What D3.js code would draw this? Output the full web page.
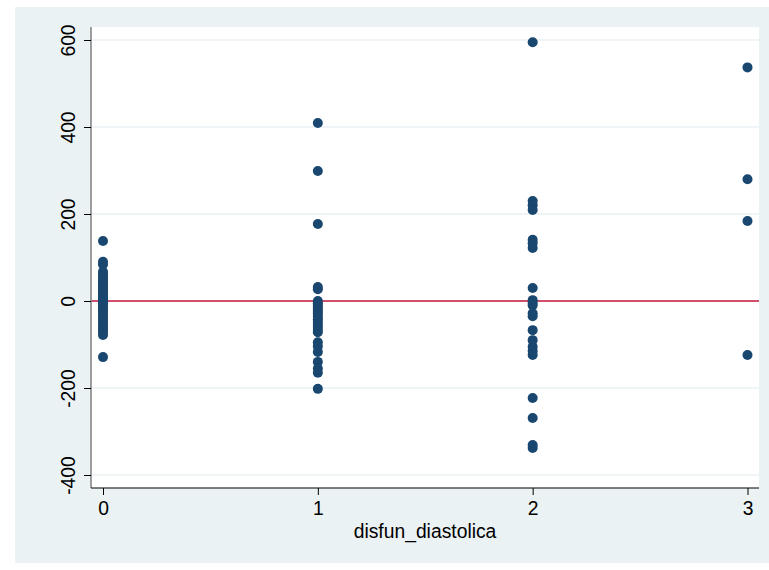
<!DOCTYPE html>
<html>
<head>
<meta charset="utf-8">
<script src="https://cdn.jsdelivr.net/npm/d3@7"></script>
<style>
  html, body { margin: 0; padding: 0; background: #ffffff; }
  svg { display: block; }
  text { font-family: "Liberation Sans", Arial, sans-serif; fill: #000; }
</style>
</head>
<body>
<svg id="chart" width="769" height="570"></svg>
<script>
// Residuals grouped by diastolic dysfunction grade
const grades = [0, 1, 2, 3];
const residGrade0 = [138, 90, 84, 67, 62, 58, 52, 47, 42, 37, 32, 27, 22, 17, 12, 7, 3, 0, -4, -9, -14, -19, -24, -29, -35, -41, -47, -53, -59, -65, -71, -78, -129];
const residGrade1 = [409, 299, 177, 32, 27, 0, -5, -10, -15, -20, -25, -30, -36, -42, -48, -54, -60, -66, -72, -95, -104, -117, -140, -155, -165, -202];
const residGrade2 = [595, 230, 220, 209, 141, 133, 122, 30, 2, -4, -10, -28, -35, -67, -90, -105, -115, -124, -223, -269, -331, -338];
const residGrade3 = [537, 280, 184, -124];
const xTicks = [0, 1, 2, 3];
const yTicks = [-400, -200, 0, 200, 400, 600];
const xTitle = "disfun_diastolica";

const seriesByGrade = [residGrade0, residGrade1, residGrade2, residGrade3];
const points = [];
seriesByGrade.forEach((vals, i) => vals.forEach(v => points.push({ x: grades[i], y: v })));

const svg = d3.select("#chart");
const fontSize = 21;
const squeeze = 0.92; // slightly condensed lettering

// outer graph region
svg.append("rect").attr("x", 15).attr("y", 7).attr("width", 754).attr("height", 556)
  .attr("fill", "#eaf2f3");

const plot = { left: 91, right: 759, top: 27, bottom: 488 };
svg.append("rect").attr("x", plot.left).attr("y", plot.top)
  .attr("width", plot.right - plot.left).attr("height", plot.bottom - plot.top)
  .attr("fill", "#ffffff");

const x = d3.scaleLinear().domain([0, 3]).range([103, 747.5]);
const y = d3.scaleLinear().domain([-400, 600]).range([475, 40]);

// horizontal gridlines
svg.append("g").selectAll("line").data(yTicks.filter(t => t !== 0)).join("line")
  .attr("x1", plot.left).attr("x2", plot.right)
  .attr("y1", d => y(d)).attr("y2", d => y(d))
  .attr("stroke", "#eaf2f3").attr("stroke-width", 1.5);

// reference line at zero
svg.append("line")
  .attr("x1", plot.left).attr("x2", plot.right)
  .attr("y1", y(0)).attr("y2", y(0))
  .attr("stroke", "#c0143c").attr("stroke-width", 1.5);

// points
svg.append("g").selectAll("circle").data(points).join("circle")
  .attr("cx", d => x(d.x)).attr("cy", d => y(d.y)).attr("r", 5)
  .attr("fill", "#1a476f");

// y axis
const yAxis = d3.axisLeft(y).tickValues(yTicks).tickSize(7).tickSizeOuter(0).tickFormat(d => String(d));
const gy = svg.append("g").attr("transform", `translate(${plot.left},0)`).call(yAxis);
gy.select(".domain").attr("d", `M0,${plot.top}V${plot.bottom}`).attr("stroke", "#7f7f7f").attr("stroke-width", 1.5);
gy.selectAll(".tick line").attr("stroke", "#000");
gy.selectAll(".tick text")
  .attr("font-size", fontSize)
  .attr("font-family", "Liberation Sans, Arial, sans-serif")
  .attr("fill", "#000")
  .attr("x", 0).attr("dy", 0)
  .attr("text-anchor", "middle")
  .attr("transform", `translate(-16,0) rotate(-90) scale(${squeeze},1)`);

// x axis
const xAxis = d3.axisBottom(x).tickValues(xTicks).tickSize(7).tickSizeOuter(0).tickFormat(d => String(d));
const gx = svg.append("g").attr("transform", `translate(0,${plot.bottom})`).call(xAxis);
gx.select(".domain").attr("d", `M${plot.left},0H${plot.right}`).attr("stroke", "#000").attr("stroke-width", 1.2);
gx.selectAll(".tick line").attr("stroke", "#000");
gx.selectAll(".tick text")
  .attr("font-size", fontSize)
  .attr("font-family", "Liberation Sans, Arial, sans-serif")
  .attr("fill", "#000")
  .attr("y", 12)
  .attr("transform", `scale(${squeeze},1)`);

svg.append("text")
  .attr("transform", `translate(${(plot.left + plot.right) / 2},538) scale(${squeeze},1)`)
  .attr("text-anchor", "middle").attr("font-size", fontSize)
  .text(xTitle);
</script>
</body>
</html>
